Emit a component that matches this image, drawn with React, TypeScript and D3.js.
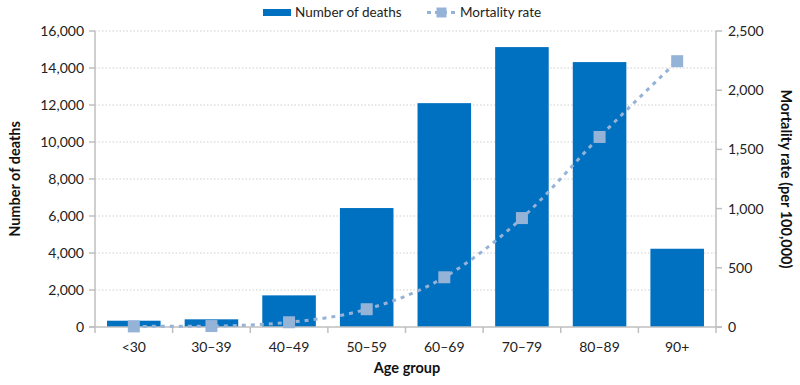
import React from 'react';
import * as d3 from 'd3';

const ageGroups = ['<30', '30–39', '40–49', '50–59', '60–69', '70–79', '80–89', '90+'];
const deaths = [340, 415, 1710, 6430, 12100, 15130, 14320, 4230];
const mortalityRate = [5, 8, 40, 150, 420, 920, 1605, 2245];
const leftTicks = [0, 2000, 4000, 6000, 8000, 10000, 12000, 14000, 16000];
const rightTicks = [0, 500, 1000, 1500, 2000, 2500];

const W = 800, H = 385;
const margin = { top: 31, right: 84, bottom: 58, left: 95 };
const barColor = '#0070c0';
const lineColor = '#95b3d7';
const axisColor = '#bfbfbf';
const font = 'Lato, "Noto Sans", sans-serif';

const App = () => {
	const x = d3.scaleBand().domain(ageGroups).range([margin.left, W - margin.right]).paddingInner(0.31).paddingOuter(0.155);
	const yL = d3.scaleLinear().domain([0, 16000]).range([H - margin.bottom, margin.top]);
	const yR = d3.scaleLinear().domain([0, 2500]).range([H - margin.bottom, margin.top]);
	const fmt = d3.format(',');
	const line = d3.line<number>()
		.x((d, i) => x(ageGroups[i])! + x.bandwidth() / 2)
		.y(d => yR(d))
		.curve(d3.curveMonotoneX);

	const x0 = margin.left, x1 = W - margin.right, yb = H - margin.bottom;
	const boundaries = d3.range(ageGroups.length + 1).map(i => x0 + i * (x1 - x0) / ageGroups.length);

	return (
		<svg width={W} height={H} style={{ position: 'absolute', left: 0, top: 0, fontFamily: font }}>
			{/* grid */}
			{leftTicks.slice(1).map(t => (
				<line key={t} x1={x0} x2={x1} y1={yL(t)} y2={yL(t)} stroke="#cfcfcf" strokeDasharray="1.5,2" />
			))}
			{/* bars */}
			{deaths.map((d, i) => (
				<rect key={i} x={x(ageGroups[i])} y={yL(d)} width={x.bandwidth()} height={yb - yL(d)} fill={barColor} />
			))}
			{/* axes */}
			<line x1={x0} x2={x0} y1={margin.top} y2={yb} stroke={axisColor} strokeWidth={1.5} />
			<line x1={x1} x2={x1} y1={margin.top} y2={yb} stroke={axisColor} strokeWidth={1.5} />
			<line x1={x0 - 6} x2={x1 + 6} y1={yb} y2={yb} stroke={axisColor} strokeWidth={1.5} />
			{boundaries.map((b, i) => (
				<line key={i} x1={b} x2={b} y1={yb} y2={yb + 6} stroke={axisColor} strokeWidth={1.5} />
			))}
			{leftTicks.map(t => (
				<g key={t}>
					<line x1={x0 - 6} x2={x0} y1={yL(t)} y2={yL(t)} stroke={axisColor} strokeWidth={1.5} />
					<text x={x0 - 11} y={yL(t)} dy="0.35em" textAnchor="end" fontSize={14} fill="#222">{fmt(t)}</text>
				</g>
			))}
			{rightTicks.map(t => (
				<g key={t}>
					<line x1={x1} x2={x1 + 6} y1={yR(t)} y2={yR(t)} stroke={axisColor} strokeWidth={1.5} />
					<text x={x1 + 12} y={yR(t)} dy="0.35em" textAnchor="start" fontSize={14} fill="#222">{fmt(t)}</text>
				</g>
			))}
			{ageGroups.map(g => (
				<text key={g} x={x(g)! + x.bandwidth() / 2} y={yb + 25} textAnchor="middle" fontSize={14} fill="#222">{g}</text>
			))}
			{/* line */}
			<path d={line(mortalityRate) || ''} fill="none" stroke={lineColor} strokeWidth={3} strokeDasharray="4,5" />
			{mortalityRate.map((d, i) => (
				<rect key={i} x={x(ageGroups[i])! + x.bandwidth() / 2 - 6} y={yR(d) - 6} width={12} height={12} fill={lineColor} />
			))}
			{/* titles */}
			<text x={407} y={373} textAnchor="middle" fontSize={14.5} fontWeight="bold" fill="#111">Age group</text>
			<text transform={`translate(20,${(margin.top + yb) / 2}) rotate(-90)`} textAnchor="middle" fontSize={14.5} fontWeight="bold" fill="#111">Number of deaths</text>
			<text transform={`translate(781,${(margin.top + yb) / 2}) rotate(90)`} textAnchor="middle" fontSize={14.5} fontWeight="bold" fill="#111">Mortality rate (per 100,000)</text>
			{/* legend */}
			<rect x={263} y={9} width={28} height={7} fill={barColor} />
			<text x={295} y={12.5} dy="0.35em" fontSize={13.5} fill="#222">Number of deaths</text>
			<line x1={427} x2={458} y1={12.5} y2={12.5} stroke={lineColor} strokeWidth={3} strokeDasharray="4,4" />
			<rect x={436.5} y={7.5} width={10} height={10} fill={lineColor} />
			<text x={460} y={12.5} dy="0.35em" fontSize={13.5} fill="#222">Mortality rate</text>
		</svg>
	);
};

export default App;
